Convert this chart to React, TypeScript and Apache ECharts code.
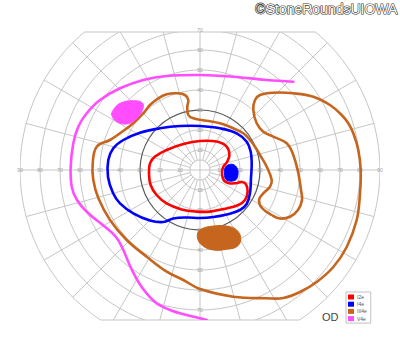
import React, { useEffect, useRef } from 'react';
import * as echarts from 'echarts';

// Perimetry grid (degrees)
const ringDegrees = [5, 10, 20, 30, 40, 50, 60, 70, 80, 90];
const spokeAngles = [0, 15, 30, 45, 60, 75, 90, 105, 120, 135, 150, 165, 180, 195, 210, 225, 240, 255, 270, 285, 300, 315, 330, 345];
const horizontalTicks = [10, 20, 30, 40, 50, 60, 70, 80, 90];
const verticalTicks = [10, 20, 30, 40, 50, 60, 70];
const fieldTop = 69;
const fieldBottom = -75;

// Isopters, [x, y] in degrees of visual field
const i2eIsopter = [
  [0, 14.5], [8.3, 14.2], [13.3, 11.7], [14.7, 7.5], [13.5, 4], [11.6, 1.5], [11, -2], [12, -5.3], [14.5, -6.6], [18, -6.6],
  [21, -6], [23, -7.2], [23.8, -10.8], [22.5, -15], [19.2, -17.5], [13.3, -19.2], [5, -20.8], [-1.7, -20.8], [-9.2, -19.7],
  [-16.7, -16.7], [-21.7, -12.5], [-24.7, -7.5], [-25.5, -1.7], [-25, 3.3], [-22.5, 6.7], [-16.7, 10], [-8.3, 13],
];
const i4eBlindSpot = [
  [14, 2.5], [16.5, 2.75], [18.5, 1], [19, -2], [18, -4.8], [15.5, -5.6], [13, -4.8], [12.25, -2], [12.5, 1],
];
const i4eIsopter = [
  [0, 22], [10, 20.85], [18.35, 18.35], [23.35, 14.15], [25.35, 9.15], [25.85, 3.35], [25.5, -4], [25, -11.5], [23.35, -17],
  [20, -20], [13.35, -22.25], [6.65, -23.5], [0, -24], [-6.65, -23.75], [-13.35, -24.25], [-18.35, -26], [-25, -25.25],
  [-33.35, -21.65], [-40, -16.65], [-43.5, -11.5], [-46, -3.5], [-45.85, 5], [-43.35, 10.85], [-38.35, 15], [-30, 18.65],
  [-20, 20.85], [-10, 22],
];
const iii4eIsopter = [
  [-51.65, 11.65], [-45, 15], [-40, 18.35], [-33.35, 23.35], [-28.35, 28.35], [-25, 32.5], [-20.85, 35.85], [-16.65, 37.85],
  [-11.65, 38.35], [-7.5, 37.5], [-5.85, 35], [-6.35, 31.65], [-5.85, 27.5], [-3.35, 25.85], [3.35, 24.65], [10, 23.35],
  [16.65, 20.85], [21.65, 18.35], [25, 15], [27.5, 11.65], [30, 7.5], [33.35, 1.65], [35.85, -5], [35, -8.35], [31.65, -11.65],
  [29.5, -15], [31, -19], [35.85, -22.5], [40, -24.25], [45, -23.35], [49, -20], [51, -15], [50.5, -10], [49.15, -1.65],
  [46.65, 7.5], [43.35, 13.35], [36.65, 16.65], [31.65, 19.15], [28.35, 23.35], [26.65, 30], [27.5, 35], [30, 37.5],
  [36.65, 38.65], [46.65, 38.35], [56.65, 36.65], [65, 32.5], [70.85, 27.5], [74.15, 23.35], [76.65, 18.35], [79.15, 10],
  [80.35, 0], [80, -11.65], [78.35, -25], [73.35, -38.5], [66.65, -48.5], [58.35, -56], [50, -61], [41.65, -64],
  [33.35, -64.15], [16.65, -63.35], [0, -59.5], [-8.35, -55], [-16.65, -50.85], [-26.65, -43.35], [-36.65, -35], [-45, -25],
  [-50.85, -14], [-53.35, -5], [-53.65, 3.35],
];
const iii4eScotoma = [
  [0, -30], [6.65, -28], [15, -28.35], [19.15, -30.85], [20.35, -35], [18.35, -38.35], [13.35, -39.65], [6.65, -40],
  [0.85, -37.5], [-1.35, -33.35],
];
const v4eIsopter = [
  [46.65, 44.15], [33.35, 45], [16.65, 46.65], [0, 47.5], [-16.65, 47], [-28.35, 45], [-40, 40.85], [-50, 35], [-56.65, 28.35],
  [-60.85, 21.65], [-63.35, 13.35], [-64.65, 1.65], [-64.15, -8.35], [-61.5, -15], [-56, -21.5], [-48, -28], [-42, -33.5],
  [-38.35, -40], [-34.5, -49], [-29.5, -58], [-22.5, -66], [-15, -70], [-6.65, -72.5], [0, -74.15], [3.35, -75],
];
const v4eIsland = [
  [-43.35, 30], [-40, 33.35], [-33.35, 34.65], [-28.65, 33.35], [-29.15, 29.15], [-32.5, 25], [-36.65, 23], [-41.65, 24.15],
  [-44.15, 27.5],
];

const seriesNames = ['I2e', 'I4e', 'III4e', 'V4e'];
const seriesColors = ['#ff0000', '#0000ff', '#c5651e', '#ff4dff'];

type Shape = { pts: number[][]; kind: 'loop' | 'open' | 'fill' };

function shapeSeries(name: string, color: string, shapes: Shape[]) {
  return {
    type: 'custom',
    name,
    coordinateSystem: 'cartesian2d',
    clip: true,
    z: 5,
    itemStyle: { color },
    encode: { x: 0, y: 1 },
    data: shapes.map((s, i) => [s.pts[0][0], s.pts[0][1], i]),
    renderItem: (params: any, api: any) => {
      const s = shapes[params.dataIndex];
      const points = s.pts.map((p) => api.coord(p));
      if (s.kind === 'fill') {
        return {
          type: 'polygon',
          shape: { points, smooth: 0.4 },
          style: { fill: color, stroke: color, lineWidth: 1 },
        };
      }
      return {
        type: s.kind === 'loop' ? 'polygon' : 'polyline',
        shape: { points, smooth: 0.4 },
        style: { fill: 'none', stroke: color, lineWidth: 2.6, lineJoin: 'round', lineCap: 'round' },
      };
    },
  };
}

export default function App() {
  const ref = useRef<HTMLDivElement>(null);
  useEffect(() => {
    if (!ref.current) return;
    const chart = echarts.init(ref.current, undefined, { renderer: 'svg' });
    const gridColor = '#c6c6c6';
    const option: any = {
      animation: false,
      backgroundColor: '#ffffff',
      grid: { left: 20, top: 32, width: 360, height: 288 },
      xAxis: { type: 'value', min: -90, max: 90, show: false },
      yAxis: { type: 'value', min: fieldBottom, max: fieldTop, show: false },
      legend: {
        data: seriesNames,
        orient: 'vertical',
        left: 346,
        top: 292,
        icon: 'rect',
        itemWidth: 6,
        itemHeight: 5,
        itemGap: 2.2,
        padding: [2.5, 4, 2, 2],
        borderColor: '#c0c0c0',
        borderWidth: 1,
        backgroundColor: '#ffffff',
        selectedMode: false,
        textStyle: { fontSize: 5, color: '#555', fontFamily: 'Liberation Sans', padding: [0, 0, 0, -2] },
        z: 10,
      },
      graphic: [
        {
          type: 'text',
          right: 2,
          top: 1,
          style: {
            text: '©StoneRoundsUIOWA',
            font: '14px "Liberation Sans", Arial, sans-serif',
            fill: '#ffffff',
            stroke: '#333333',
            lineWidth: 1.2,
          },
        },
        {
          type: 'text',
          left: 322,
          top: 311,
          style: { text: 'OD', font: '11px "Liberation Sans", Arial, sans-serif', fill: '#444' },
        },
      ],
      series: [
        {
          type: 'custom',
          name: 'spokes',
          coordinateSystem: 'cartesian2d',
          clip: true,
          silent: true,
          z: 1,
          data: spokeAngles.map((a) => [a, 0]),
          renderItem: (params: any, api: any) => {
            const a = api.value(0);
            const rad = (a * Math.PI) / 180;
            const r0 = a % 90 === 0 ? 0 : 5;
            const p0 = api.coord([r0 * Math.cos(rad), r0 * Math.sin(rad)]);
            const p1 = api.coord([90 * Math.cos(rad), 90 * Math.sin(rad)]);
            return {
              type: 'line',
              shape: { x1: p0[0], y1: p0[1], x2: p1[0], y2: p1[1] },
              style: { stroke: gridColor, lineWidth: 1 },
            };
          },
        },
        {
          type: 'custom',
          name: 'rings',
          coordinateSystem: 'cartesian2d',
          clip: true,
          silent: true,
          z: 2,
          data: ringDegrees.map((r) => [r, 0]),
          renderItem: (params: any, api: any) => {
            const r = api.value(0);
            const c = api.coord([0, 0]);
            const e = api.coord([r, 0]);
            return {
              type: 'circle',
              shape: { cx: c[0], cy: c[1], r: e[0] - c[0] },
              style: { fill: 'none', stroke: r === 30 ? '#5a5a5a' : gridColor, lineWidth: r === 30 ? 1.2 : 1 },
            };
          },
        },
        {
          type: 'custom',
          name: 'frame',
          coordinateSystem: 'cartesian2d',
          clip: false,
          silent: true,
          z: 2,
          data: [[0, fieldTop], [0, fieldBottom]],
          renderItem: (params: any, api: any) => {
            const y = api.value(1);
            const half = Math.sqrt(90 * 90 - y * y);
            const p0 = api.coord([-half, y]);
            const p1 = api.coord([half, y]);
            return {
              type: 'line',
              shape: { x1: p0[0], y1: p0[1], x2: p1[0], y2: p1[1] },
              style: { stroke: gridColor, lineWidth: 1.2 },
            };
          },
        },
        {
          type: 'custom',
          name: 'ticks',
          coordinateSystem: 'cartesian2d',
          clip: false,
          silent: true,
          z: 3,
          data: [
            ...horizontalTicks.map((t) => [-t, 0, t]),
            ...horizontalTicks.map((t) => [t, 0, t]),
            ...verticalTicks.map((t) => [0, t, t]),
            ...verticalTicks.map((t) => [0, -t, t]),
          ],
          renderItem: (params: any, api: any) => {
            const p = api.coord([api.value(0), api.value(1)]);
            return {
              type: 'text',
              x: p[0],
              y: p[1],
              style: {
                text: String(api.value(2)),
                font: '5px "Liberation Sans", Arial, sans-serif',
                fill: '#a0a0a0',
                align: 'center',
                verticalAlign: 'middle',
              },
            };
          },
        },
        shapeSeries(seriesNames[0], seriesColors[0], [{ pts: i2eIsopter, kind: 'loop' }]),
        shapeSeries(seriesNames[1], seriesColors[1], [
          { pts: i4eIsopter, kind: 'loop' },
          { pts: i4eBlindSpot, kind: 'fill' },
        ]),
        shapeSeries(seriesNames[2], seriesColors[2], [
          { pts: iii4eIsopter, kind: 'loop' },
          { pts: iii4eScotoma, kind: 'fill' },
        ]),
        shapeSeries(seriesNames[3], seriesColors[3], [
          { pts: v4eIsopter, kind: 'open' },
          { pts: v4eIsland, kind: 'fill' },
        ]),
      ],
    };
    chart.setOption(option);
    return () => chart.dispose();
  }, []);
  return (
    <div
      ref={ref}
      style={{ position: 'fixed', left: 0, top: 0, width: 400, height: 352, background: '#fff' }}
    />
  );
}
